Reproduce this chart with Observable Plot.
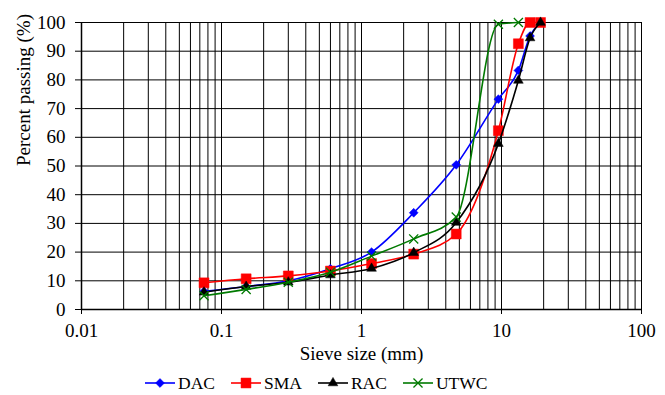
<!DOCTYPE html>
<html>
<head>
<meta charset="utf-8">
<script src="https://cdn.jsdelivr.net/npm/d3@7"></script>
<script src="https://cdn.jsdelivr.net/npm/@observablehq/plot@0.6"></script>
<style>
  html, body { margin: 0; padding: 0; background: #fff; }
  body { width: 665px; height: 395px; overflow: hidden; font-family: "Liberation Serif", Tinos, "Times New Roman", Times, "DejaVu Serif", serif; }
  #chart svg { display: block; }
  #legend { display: flex; align-items: center; margin-left: 145px; margin-top: 3px; height: 24px; font-size: 17.5px; color: #000; }
  #legend .item { display: flex; align-items: center; margin-right: 16px; }
  #legend svg { display: block; margin-right: 3px; }
  #chart svg, #chart svg text { font-family: "Liberation Serif", Tinos, "Times New Roman", Times, "DejaVu Serif", serif !important; }
</style>
</head>
<body>
<div id="chart"></div>
<div id="legend"></div>
<script>
const seriesNames = ["DAC", "SMA", "RAC", "UTWC"];
const seriesColors = ["#0000ff", "#ff0000", "#000000", "#007a00"];
const seriesSymbols = ["diamond2", "square", "triangle", "times"];
const sieve = [0.075, 0.15, 0.3, 0.6, 1.18, 2.36, 4.75, 9.5, 13.2, 16, 19];
const dac  = [6.3, 8, 10, 14.2, 20, 33.7, 50.4, 73.3, 83.3, 95.3, 100];
const sma  = [9.3, 10.7, 11.7, 13.4, 16, 19.3, 26.3, 62.3, 92.6, 100, 100];
const rac  = [6, 8, 9.5, 12, 14.3, 19.8, 30.3, 57.8, 79.8, 94.6, 100];
const utwc = [4.8, 7, 9.5, 13, 18.6, 24.6, 32.2, 99.4, 100];
const xTicks = [0.01, 0.1, 1, 10, 100];
const yTicks = [0, 10, 20, 30, 40, 50, 60, 70, 80, 90, 100];

const FONT = "'Liberation Serif', Tinos, 'Times New Roman', Times, 'DejaVu Serif', serif";
const symbolR = {diamond2: 4, square: 5.6, triangle: 3.6, times: 4.2};

const values = [dac, sma, rac, utwc];
const data = [];
values.forEach((arr, i) => arr.forEach((v, j) => data.push({series: seriesNames[i], size: sieve[j], pass: v})));

// minor log gridlines 1..9 x each decade
const gridX = [];
for (let k = 0; k < xTicks.length - 1; k++) for (let m = 1; m <= 9; m++) gridX.push(xTicks[k] * m);
gridX.push(xTicks[xTicks.length - 1]);

const marks = [
  Plot.ruleX(gridX, {stroke: "#000", strokeWidth: 1}),
  Plot.ruleY(yTicks, {stroke: "#000", strokeWidth: 1}),
  Plot.ruleX([xTicks[0]], {stroke: "#000", strokeWidth: 1.5}),
  Plot.ruleY([0], {stroke: "#000", strokeWidth: 1.5}),
  Plot.axisX({ticks: xTicks, tickFormat: d => String(d), tickSize: 5, tickPadding: 9, label: null, fontFamily: FONT}),
  Plot.axisY({ticks: yTicks, tickSize: 6, tickPadding: 10, label: null, fontFamily: FONT}),
  Plot.text(["Sieve size (mm)"], {frameAnchor: "bottom", dy: 50, fontSize: 19, fontFamily: FONT}),
  Plot.text(["Percent passing (%)"], {frameAnchor: "left", dx: -58, rotate: -90, fontSize: 19, fontFamily: FONT})
];
seriesNames.forEach((name, i) => {
  const d = data.filter(r => r.series === name);
  const s = seriesSymbols[i];
  const filled = s !== "times";
  marks.push(Plot.line(d, {x: "size", y: "pass", stroke: seriesColors[i], strokeWidth: 1.6, curve: "monotone-x"}));
  marks.push(Plot.dot(d, {x: "size", y: "pass", symbol: () => s, r: symbolR[s],
    fill: filled ? seriesColors[i] : "none", stroke: seriesColors[i], strokeWidth: filled ? 0.5 : 1.3}));
});

const chart = Plot.plot({
  width: 665,
  height: 368,
  marginTop: 22,
  marginBottom: 59,
  marginLeft: 81,
  marginRight: 24,
  style: {fontFamily: FONT, fontSize: "19px", color: "#000", background: "#fff"},
  x: {type: "log", domain: [xTicks[0], xTicks[xTicks.length - 1]]},
  y: {domain: [0, 100]},
  symbol: {type: "identity"},
  marks
});
document.getElementById("chart").appendChild(chart);

// legend
const legend = d3.select("#legend");
seriesNames.forEach((name, i) => {
  const s = seriesSymbols[i];
  const item = legend.append("div").attr("class", "item");
  const svg = item.append("svg").attr("width", 30).attr("height", 14);
  svg.append("line").attr("x1", 0).attr("x2", 30).attr("y1", 7).attr("y2", 7).attr("stroke", seriesColors[i]).attr("stroke-width", 1.6);
  const sym = {diamond2: d3.symbolDiamond2, square: d3.symbolSquare, triangle: d3.symbolTriangle, times: d3.symbolTimes}[s];
  const r = symbolR[s];
  const filled = s !== "times";
  svg.append("path").attr("transform", "translate(15,7)").attr("d", d3.symbol(sym, Math.PI * r * r)())
    .attr("fill", filled ? seriesColors[i] : "none").attr("stroke", seriesColors[i]).attr("stroke-width", filled ? 0.5 : 1.3);
  item.append("span").text(name);
});
</script>
</body>
</html>
